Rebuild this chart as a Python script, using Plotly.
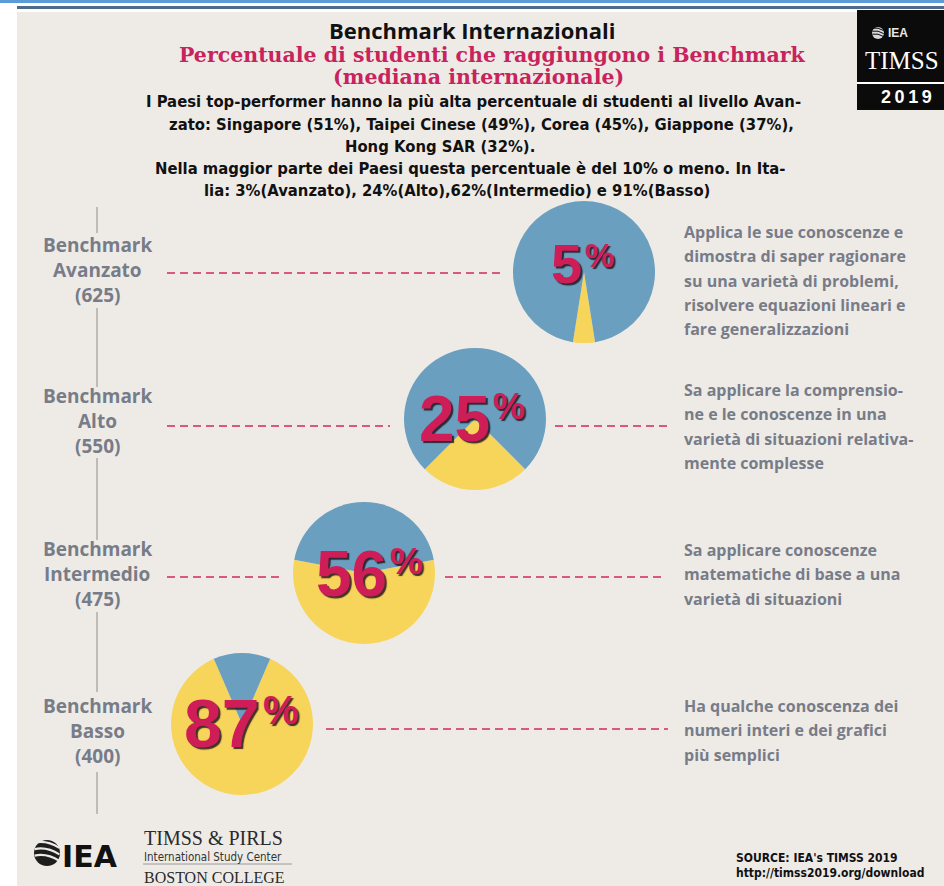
import plotly.graph_objects as go

W, H = 944, 886

# ---------------- data ----------------
levels = ["Avanzato", "Alto", "Intermedio", "Basso"]
scores = [625, 550, 475, 400]
percent_reached = [5, 25, 56, 87]
descriptions = [
    ["Applica le sue conoscenze e", "dimostra di saper ragionare",
     "su una varietà di problemi,", "risolvere equazioni lineari e",
     "fare generalizzazioni"],
    ["Sa applicare la comprensio-", "ne e le conoscenze in una",
     "varietà di situazioni relativa-", "mente complesse"],
    ["Sa applicare conoscenze", "matematiche di base a una",
     "varietà di situazioni"],
    ["Ha qualche conoscenza dei", "numeri interi e dei grafici",
     "più semplici"],
]
title = "Benchmark Internazionali"
subtitle_lines = ["Percentuale di studenti che raggiungono i Benchmark",
                  "(mediana internazionale)"]
note_lines = [
    "I Paesi top-performer hanno la più alta percentuale di studenti al livello Avan-",
    "zato: Singapore (51%), Taipei Cinese (49%), Corea (45%), Giappone (37%),",
    "Hong Kong SAR (32%).",
    "Nella maggior parte dei Paesi questa percentuale è del 10% o meno. In Ita-",
    "lia: 3%(Avanzato), 24%(Alto),62%(Intermedio) e 91%(Basso)",
]
source_lines = ["SOURCE: IEA's TIMSS 2019", "http://timss2019.org/download"]

# ---------------- layout / style ----------------
BG = "#eeebe7"
BLUE = "#6a9fbf"
YELLOW = "#f7d45a"
MAGENTA = "#cf1d58"
GRAY = "#777c88"
DASH = "#d8587e"
NARROW = "DejaVu Sans Condensed, Liberation Sans Narrow, Roboto, sans-serif"
SANS = "Open Sans, Noto Sans, sans-serif"
SERIF = "DejaVu Serif, Liberation Serif, serif"
NUMF = "Liberation Sans, Arial, sans-serif"

pie_cx = [584, 475, 364, 242]
pie_cy = [272, 419, 573, 724]
pie_r = 71

label_x = 97
label_y = [270, 421, 574, 731]
label_gap = 25
desc_x = 683
desc_first_y = [232, 390, 550, 706]
desc_gap = 24.3

num_right = [583, 491, 388, 261]
num_y = [263, 419, 574, 723]
num_size = [56, 64, 64, 68]
pct_y = [255, 406, 561, 710]
pct_size = [33, 36, 37, 40]

dash_segments = [
    [(167, 500)],
    [(167, 390), (555, 668)],
    [(167, 284), (445, 664)],
    [(326, 668)],
]
dash_y = [273, 426, 577, 729]
vline_segments = [(207, 233), (308, 387), (458, 540), (612, 692), (772, 814)]

note_pos = [(473, 102), (481, 124), (440, 146), (470, 168), (457, 190)]


def X(px):
    return px / W


def Y(py):
    return 1 - py / H


fig = go.Figure()

# ---------------- pies ----------------
for i, p in enumerate(percent_reached):
    cx, cy, r = pie_cx[i], pie_cy[i], pie_r
    fig.add_trace(go.Pie(
        values=[p, 100 - p],
        labels=["Raggiunge il benchmark", "Non raggiunge"],
        sort=False,
        direction="clockwise",
        rotation=180 - p * 1.8,
        marker=dict(colors=[YELLOW, BLUE], line=dict(width=0)),
        textinfo="none",
        hoverinfo="label+percent",
        showlegend=False,
        domain=dict(x=[X(cx - r), X(cx + r)], y=[Y(cy + r), Y(cy - r)]),
    ))

shapes = []


def rect(x0, y0, x1, y1, fill, layer="below"):
    shapes.append(dict(type="rect", xref="paper", yref="paper",
                       x0=X(x0), x1=X(x1), y0=Y(y0), y1=Y(y1),
                       fillcolor=fill, line=dict(width=0), layer=layer))


def seg(x0, y0, x1, y1, color, width, dash="solid", layer="below"):
    shapes.append(dict(type="line", xref="paper", yref="paper",
                       x0=X(x0), x1=X(x1), y0=Y(y0), y1=Y(y1),
                       line=dict(color=color, width=width, dash=dash), layer=layer))


def globe(cx, cy, r, fill, stroke, layer="above"):
    shapes.append(dict(type="circle", xref="paper", yref="paper",
                       x0=X(cx - r), x1=X(cx + r), y0=Y(cy + r), y1=Y(cy - r),
                       fillcolor=fill, line=dict(width=0), layer=layer))
    for k in (-0.45, 0.05, 0.55):
        x0, y0 = cx - r * 0.95, cy + r * k - r * 0.35
        x1, y1 = cx + r * 0.95, cy + r * k + r * 0.05
        qx, qy = cx, cy + r * k - r * 0.55
        path = "M %f,%f Q %f,%f %f,%f" % (X(x0), Y(y0), X(qx), Y(qy), X(x1), Y(y1))
        shapes.append(dict(type="path", xref="paper", yref="paper", path=path,
                           line=dict(color=stroke, width=max(1, r / 6)), layer=layer))


# background and top bars
rect(17, 12, W, H, BG)
rect(0, 0, W, 3, "#5b9bd8")
rect(17, 6, W, 9, "#4d6b8c")

# vertical axis line
for a, b in vline_segments:
    seg(label_x, a, label_x, b, "#8c8c8c", 1)

# dashed connectors
for i, segs in enumerate(dash_segments):
    for a, b in segs:
        seg(a, dash_y[i], b, dash_y[i], DASH, 2, dash="8px,5px")

# TIMSS logo box
rect(857, 10, W, 110, "#0b0b0b", layer="above")
seg(857, 83, W, 83, "#ffffff", 2, layer="above")
globe(878, 33, 6, "#d8d8d8", "#0b0b0b")

# bottom-left logo
globe(47, 853, 13, "#1e1e1e", BG)
seg(143, 864, 292, 864, "#9a9a9a", 1, layer="above")

fig.update_layout(shapes=shapes)


def ann(text, x, y, size, color, family, weight="normal", xanchor="center",
        yanchor="middle", align="center", shadow=None):
    font = dict(size=size, color=color, family=family, weight=weight)
    if shadow:
        font["shadow"] = shadow
    fig.add_annotation(text=text, x=X(x), y=Y(y), xref="paper", yref="paper",
                       showarrow=False, xanchor=xanchor, yanchor=yanchor,
                       align=align, font=font, borderpad=0)


# titles
ann(title, 472, 30, 22, "#111111", SANS, "bold")
ann(subtitle_lines[0], 492, 55, 20.5, "#c8235c", SERIF, "bold")
ann(subtitle_lines[1], 478, 77, 20.5, "#c8235c", SERIF, "bold")
for (x, y), t in zip(note_pos, note_lines):
    ann(t, x, y, 16.5, "#111111", NARROW, "bold")

# level labels, descriptions, percentages
shadow = "2px 2px 1px rgba(35,20,28,0.85)"
for i in range(len(levels)):
    for j, t in enumerate(["Benchmark", levels[i], "(%d)" % scores[i]]):
        ann(t, label_x, label_y[i] + (j - 1) * label_gap, 19, GRAY, SANS, "bold")
    for j, t in enumerate(descriptions[i]):
        ann(t, desc_x, desc_first_y[i] + j * desc_gap, 16, GRAY, SANS, "bold",
            xanchor="left", align="left")
    ann(str(percent_reached[i]), num_right[i], num_y[i], num_size[i], MAGENTA,
        NUMF, "bold", xanchor="right", shadow=shadow)
    ann("%", num_right[i] + 1, pct_y[i], pct_size[i], MAGENTA,
        NUMF, "bold", xanchor="left", shadow=shadow)

# TIMSS logo texts
ann("IEA", 887, 33, 12, "#e8e8e8", "Liberation Sans, sans-serif", "bold", xanchor="left")
ann("TIMSS", 864, 61, 25, "#ffffff", "Liberation Serif, serif", xanchor="left")
ann("2\u20090\u20091\u20099", 906, 97, 18, "#ffffff", "Liberation Sans, sans-serif", "bold")

# bottom-left logo texts
ann("IEA", 61, 856, 30, "#111111", "DejaVu Sans, sans-serif", "bold", xanchor="left")
ann("TIMSS &amp; PIRLS", 143, 838, 20, "#2a2a2a", "Liberation Serif, serif", xanchor="left")
ann("International Study Center", 143, 856.5, 11.5, "#333333", NARROW, xanchor="left")
ann("BOSTON COLLEGE", 143, 877, 16, "#2a2a2a", "Liberation Serif, serif", xanchor="left")

# source
ann(source_lines[0], 735, 858, 12, "#111111", NARROW, "bold", xanchor="left")
ann(source_lines[1], 735, 873, 12, "#111111", NARROW, "bold", xanchor="left")

fig.update_layout(
    width=W, height=H,
    margin=dict(l=0, r=0, t=0, b=0),
    paper_bgcolor="#ffffff",
    showlegend=False,
)

fig.write_html(
    "out.html",
    config={"displayModeBar": False},
    post_script="document.body.style.margin='0';document.body.style.overflow='hidden';",
)
